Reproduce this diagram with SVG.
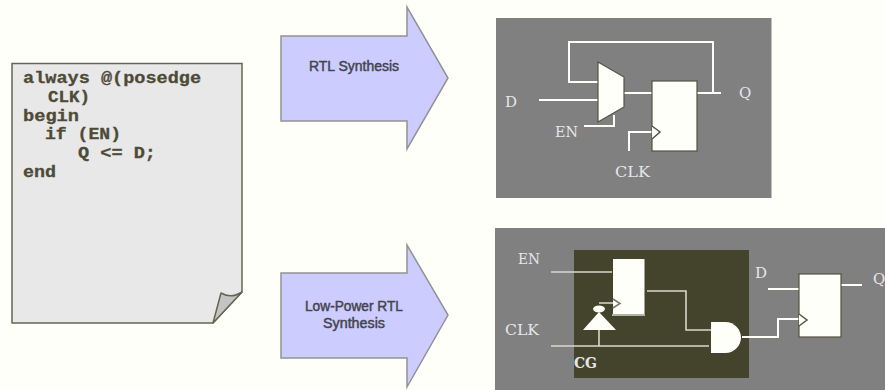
<svg xmlns="http://www.w3.org/2000/svg" width="885" height="390" viewBox="0 0 885 390">
<style>
.code{font:bold 16px "Liberation Mono",monospace;fill:#4d4b38;stroke:#4d4b38;stroke-width:.3}
.arrow{fill:#ccccff;stroke:#929292;stroke-width:1.5}
.atxt{font:14px "Liberation Sans",Arial,sans-serif;fill:#44444c;stroke:#44444c;stroke-width:.45;text-anchor:middle}
.lab{font:15px "DejaVu Serif",serif;fill:#e6e6ea}
.w{fill:none;stroke:#fffffa;stroke-width:2}
.t{fill:none;stroke:#d8d8cc;stroke-width:1.600}
.box{fill:#fffffa;stroke:#55533f;stroke-width:1.2}
</style>
<rect width="885" height="390" fill="#fffffa"/>
<g id="page">
<path d="M12,63.500H242V292L213,323H12Z" fill="#e8e8e8" stroke="#66664f" stroke-width="1.500"/>
<path d="M213,323L221,293Q231,299 242,292Z" fill="#c4c4c4" stroke="#66664f" stroke-width="1.500" stroke-linejoin="round"/>
<text class="code" x="23" y="83" textLength="178" lengthAdjust="spacingAndGlyphs">always @(posedge</text>
<text class="code" x="48" y="102" textLength="42" lengthAdjust="spacingAndGlyphs">CLK)</text>
<text class="code" x="23" y="121" textLength="56" lengthAdjust="spacingAndGlyphs">begin</text>
<text class="code" x="45" y="139" textLength="76" lengthAdjust="spacingAndGlyphs">if (EN)</text>
<text class="code" x="78" y="158" textLength="78" lengthAdjust="spacingAndGlyphs">Q &lt;= D;</text>
<text class="code" x="23" y="177" textLength="33" lengthAdjust="spacingAndGlyphs">end</text>
</g>
<g id="arrow-rtl">
<path class="arrow" d="M281,36H407V7L448,78L407,149V121H281Z"/>
<text class="atxt" x="354" y="71" textLength="90" lengthAdjust="spacingAndGlyphs">RTL Synthesis</text>
</g>
<g id="arrow-lp">
<path class="arrow" d="M281,273H407V245L448,315L407,387V358H281Z"/>
<text class="atxt" x="354" y="311" textLength="98" lengthAdjust="spacingAndGlyphs">Low-Power RTL</text>
<text class="atxt" x="354" y="328" textLength="62" lengthAdjust="spacingAndGlyphs">Synthesis</text>
</g>
<g id="panel-top">
<rect x="496" y="18" width="275.500" height="180" fill="#808080"/>
<text class="lab" x="505" y="107">D</text>
<text class="lab" x="739" y="98">Q</text>
<text class="lab" x="555" y="137" textLength="23" lengthAdjust="spacingAndGlyphs">EN</text>
<text class="lab" x="615" y="177" textLength="35" lengthAdjust="spacingAndGlyphs">CLK</text>
</g>
<g id="connectors-top">
<path class="w" d="M598,82H569V42H713V93M697,93H721M539,100H598M584,126H614V115M624,93H652M629,151V132H652"/>
</g>
<g id="mux"><path class="box" d="M598,62L624,77V107L598,122Z"/></g>
<g id="ff-top">
<rect class="box" x="652" y="81" width="45" height="70"/>
<path d="M652,126L660,132L652,139" fill="#fffffa" stroke="#55533f" stroke-width="1.500"/>
</g>
<g id="panel-bottom">
<rect x="495" y="228" width="390" height="162" fill="#808080"/>
<rect x="574" y="250" width="175" height="128" fill="#44432c"/>
<text class="lab" x="518" y="264" textLength="22" lengthAdjust="spacingAndGlyphs">EN</text>
<text class="lab" x="505" y="335" textLength="34" lengthAdjust="spacingAndGlyphs">CLK</text>
<text class="lab" x="755" y="278">D</text>
<text class="lab" x="873" y="284">Q</text>
<text class="lab" x="574" y="368" style="font-weight:bold" textLength="23" lengthAdjust="spacingAndGlyphs">CG</text>
</g>
<g id="connectors-bottom">
<path class="t" d="M551,272H612M551,346H709M599,330V346M599,303H613M647,291H686V330H711"/>
<path class="w" d="M742,337H778V319H799M768,289H799M841,285H862"/>
</g>
<g id="ff-cg">
<rect x="613" y="259" width="31.500" height="55" fill="#fffffa"/>
<path d="M612,315H645" stroke="#d8d8cc" stroke-width="1.500"/>
<path d="M613,299L620,303.500L613,308" fill="#fffffa" stroke="#77776a" stroke-width="1.500"/>
</g>
<g id="clock-buffer">
<ellipse cx="599" cy="309" rx="6" ry="3.500" fill="#fffffa"/>
<path d="M599,312L616,330H583Z" fill="#fffffa"/>
</g>
<g id="and-gate"><path d="M711,322H725C735,322 741,330 741,337.500C741,345 735,353 725,353H711Z" fill="#fffffa"/></g>
<g id="ff-out">
<rect class="box" x="799" y="274" width="42" height="63"/>
<path d="M799,314L807,320L799,326" fill="#fffffa" stroke="#55533f" stroke-width="1.500"/>
</g>
</svg>
